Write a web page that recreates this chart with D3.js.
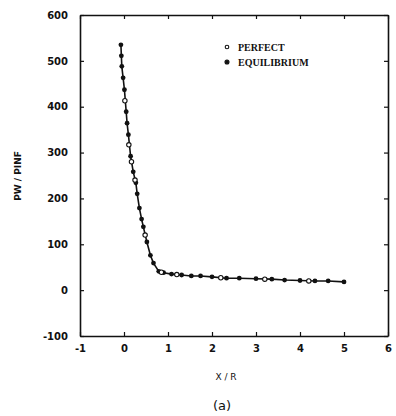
<!DOCTYPE html>
<html lang="en">
<head>
    <meta charset="UTF-8">
    <title>PW / PINF</title>
    <script src="https://cdn.jsdelivr.net/npm/d3@7"></script>
    <style>
        body { margin: 0; background: #ffffff; }
        text { fill: #111111; }
        .tick-label { font-family: "DejaVu Sans", sans-serif; font-weight: bold; font-size: 10px; }
        .legend-label { font-family: "Liberation Serif", serif; font-weight: bold; font-size: 10px; }
    </style>
</head>
<body>
    <div id="canvas"></div>

    <script>
        // data
        const xTicks = [-1, 0, 1, 2, 3, 4, 5, 6];
        const yTicks = [-100, 0, 100, 200, 300, 400, 500, 600];

        const equilibriumX = [-0.07, -0.06, -0.05, -0.02, 0.01, 0.05, 0.07, 0.10, 0.15, 0.21, 0.27, 0.30, 0.35, 0.40, 0.44, 0.52, 0.60, 0.67, 0.79, 0.90, 1.08, 1.31, 1.53, 1.74, 2.00, 2.33, 2.62, 3.00, 3.36, 3.65, 4.00, 4.34, 4.64, 5.00];
        const equilibriumY = [535, 511, 488, 463, 437, 389, 364, 339, 292, 258, 234, 210, 179, 155, 138, 105, 76, 59, 41, 38, 35, 33, 31, 31, 29, 26, 26, 25, 24, 22, 21, 20, 20, 18];

        const perfectX = [0.02, 0.11, 0.17, 0.25, 0.48, 0.85, 1.2, 2.2, 3.2, 4.2];
        const perfectY = [413, 317, 280, 240, 120, 39, 34, 27, 24, 20];

        const legendNames = ['PERFECT', 'EQUILIBRIUM'];
    </script>

    <script>
        const canvasWidth = 396;
        const canvasHeight = 416;
        const plot = { left: 80, right: 388, top: 15, bottom: 336 };

        const svg = d3.select('#canvas')
            .append('svg')
            .attr('width', canvasWidth)
            .attr('height', canvasHeight);

        svg.append('rect')
            .attr('width', canvasWidth)
            .attr('height', canvasHeight)
            .attr('fill', '#ffffff');

        const x = d3.scaleLinear().domain([-1, 6]).range([plot.left, plot.right]);
        const y = d3.scaleLinear().domain([-100, 600]).range([plot.bottom, plot.top]);
        const intFormat = d => String(d);

        // axes, ticks pointing inward on all four sides
        const axisStyle = (g) => {
            g.select('.domain').attr('stroke', '#111').attr('stroke-width', 1.6);
            g.selectAll('.tick line').attr('stroke', '#111').attr('stroke-width', 1.2);
        };

        svg.append('g')
            .attr('transform', `translate(0,${plot.bottom})`)
            .call(d3.axisBottom(x).tickValues(xTicks).tickFormat(intFormat).tickSize(-4).tickPadding(9).tickSizeOuter(0))
            .call(axisStyle)
            .call(g => g.selectAll('.tick text').attr('class', 'tick-label'));

        svg.append('g')
            .attr('transform', `translate(0,${plot.top})`)
            .call(d3.axisTop(x).tickValues(xTicks).tickSize(-4).tickFormat('').tickSizeOuter(0))
            .call(axisStyle);

        svg.append('g')
            .attr('transform', `translate(${plot.left},0)`)
            .call(d3.axisLeft(y).tickValues(yTicks).tickFormat(intFormat).tickSize(-4).tickPadding(12).tickSizeOuter(0))
            .call(axisStyle)
            .call(g => g.selectAll('.tick text').attr('class', 'tick-label'));

        svg.append('g')
            .attr('transform', `translate(${plot.right},0)`)
            .call(d3.axisRight(y).tickValues(yTicks).tickSize(-4).tickFormat('').tickSizeOuter(0))
            .call(axisStyle);

        // axis titles
        svg.append('text')
            .attr('class', 'tick-label')
            .attr('x', 226)
            .attr('y', 380)
            .attr('text-anchor', 'middle')
            .style('font-size', '9px')
            .style('font-weight', 'normal')
            .text('X / R');

        svg.append('text')
            .attr('class', 'tick-label')
            .attr('transform', 'translate(21,176) rotate(-90)')
            .attr('text-anchor', 'middle')
            .style('font-size', '9px')
            .text('PW / PINF');

        svg.append('text')
            .attr('x', 222)
            .attr('y', 410)
            .attr('text-anchor', 'middle')
            .style('font-family', '"DejaVu Sans", sans-serif')
            .style('font-size', '13px')
            .text('(a)');

        // curve
        const eq = equilibriumX.map((d, i) => [d, equilibriumY[i]]);
        const pf = perfectX.map((d, i) => [d, perfectY[i]]);

        svg.append('path')
            .datum(eq)
            .attr('fill', 'none')
            .attr('stroke', '#111')
            .attr('stroke-width', 1.6)
            .attr('d', d3.line().x(d => x(d[0])).y(d => y(d[1])));

        svg.selectAll('.eq')
            .data(eq)
            .enter()
            .append('circle')
            .attr('class', 'eq')
            .attr('cx', d => x(d[0]))
            .attr('cy', d => y(d[1]))
            .attr('r', 2.4)
            .attr('fill', '#111');

        svg.selectAll('.pf')
            .data(pf)
            .enter()
            .append('circle')
            .attr('class', 'pf')
            .attr('cx', d => x(d[0]))
            .attr('cy', d => y(d[1]))
            .attr('r', 2.2)
            .attr('fill', '#fff')
            .attr('stroke', '#111')
            .attr('stroke-width', 1.1);

        // legend
        const legend = svg.append('g').attr('transform', 'translate(227,47)');
        legendNames.forEach((name, i) => {
            const row = legend.append('g').attr('transform', `translate(0,${i * 15})`);
            row.append('circle')
                .attr('r', i === 0 ? 1.8 : 2)
                .attr('fill', i === 0 ? '#fff' : '#111')
                .attr('stroke', '#111')
                .attr('stroke-width', 1.1);
            row.append('text')
                .attr('class', 'legend-label')
                .attr('x', 11)
                .attr('y', 3.5)
                .text(name);
        });
    </script>
</body>
</html>
